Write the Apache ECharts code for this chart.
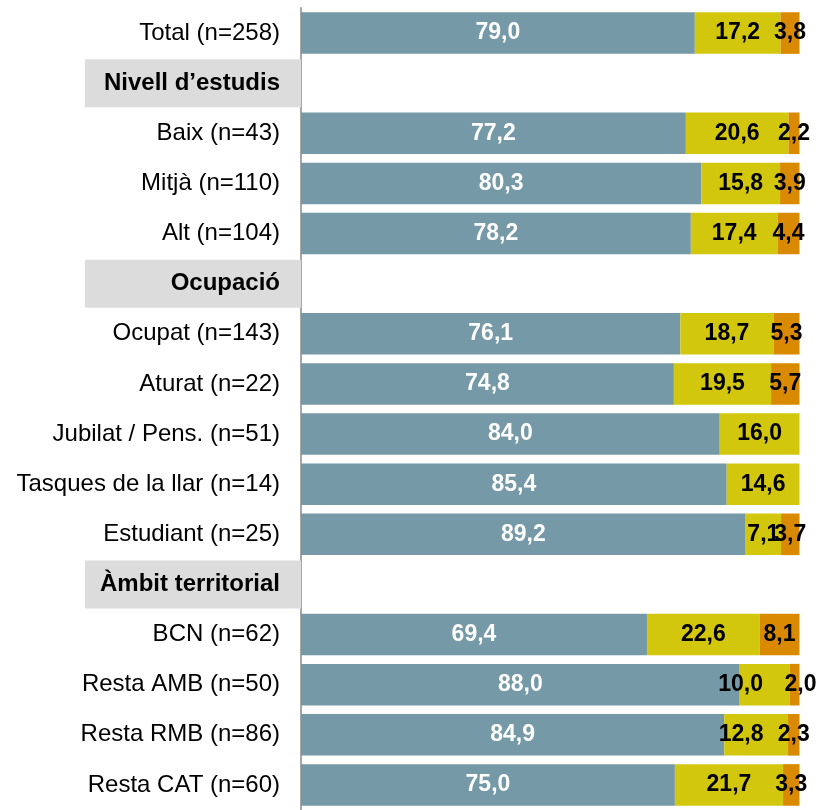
<!DOCTYPE html>
<html>
<head>
<meta charset="utf-8">
<script src="https://cdn.jsdelivr.net/npm/echarts@6/dist/echarts.min.js"></script>
<style>
html,body{margin:0;padding:0;background:#fff;}
#chart{width:822px;height:810px;}
</style>
</head>
<body>
<div id="chart"></div>
<script>
// ---- data ----
const categories = [
  'Total (n=258)',
  'Nivell d\u2019estudis',
  'Baix (n=43)',
  'Mitjà (n=110)',
  'Alt (n=104)',
  'Ocupació',
  'Ocupat (n=143)',
  'Aturat (n=22)',
  'Jubilat / Pens. (n=51)',
  'Tasques de la llar (n=14)',
  'Estudiant (n=25)',
  'Àmbit territorial',
  'BCN (n=62)',
  'Resta AMB (n=50)',
  'Resta RMB (n=86)',
  'Resta CAT (n=60)'
];
const headerRows = ['Nivell d\u2019estudis', 'Ocupació', 'Àmbit territorial'];
const seriesA = [79.0, null, 77.2, 80.3, 78.2, null, 76.1, 74.8, 84.0, 85.4, 89.2, null, 69.4, 88.0, 84.9, 75.0];
const seriesB = [17.2, null, 20.6, 15.8, 17.4, null, 18.7, 19.5, 16.0, 14.6, 7.1, null, 22.6, 10.0, 12.8, 21.7];
const seriesC = [3.8, null, 2.2, 3.9, 4.4, null, 5.3, 5.7, null, null, 3.7, null, 8.1, 2.0, 2.3, 3.3];

// label nudges (style only), keyed by category index
const offsetsB = {13: [-24, 0], 14: [-15, 0]};
const offsetsC = {13: [6, 0]};

const fmt = p => (p.value == null || p.value === 0) ? '' : p.value.toFixed(1).replace('.', ',');

function build(values, offsets) {
  return values.map((v, i) => {
    const item = {value: v};
    if (offsets && offsets[i]) item.label = {offset: offsets[i]};
    return item;
  });
}

const chart = echarts.init(document.getElementById('chart'), null, {renderer: 'canvas'});
const font = 'Liberation Sans, Arial, sans-serif';
const labelBase = {show: true, position: 'inside', fontFamily: font, fontSize: 23, fontWeight: 'bold', formatter: fmt};

chart.setOption({
  animation: false,
  backgroundColor: '#fff',
  grid: {left: 301, top: 8, width: 498.5, height: 810.7, containLabel: false},
  xAxis: {type: 'value', min: 0, max: 100, show: false},
  yAxis: {
    type: 'category',
    inverse: true,
    data: categories,
    axisLine: {show: true, lineStyle: {color: '#A6A6A6', width: 2}},
    axisTick: {show: false},
    axisLabel: {
      margin: 0,
      interval: 0,
      formatter: v => headerRows.includes(v) ? '{h|' + v + '}' : '{n|' + v + '}',
      rich: {
        n: {fontFamily: font, fontSize: 24, color: '#000', padding: [0, 21, 0, 0]},
        h: {fontFamily: font, fontSize: 24, fontWeight: 'bold', color: '#000',
            backgroundColor: '#DCDCDC', width: 195, height: 48, lineHeight: 48,
            align: 'right', padding: [0, 21, 0, 0]}
      }
    }
  },
  series: [
    {type: 'bar', stack: 's', barCategoryGap: '17%', data: build(seriesA),
     itemStyle: {color: '#7599A6'}, label: Object.assign({}, labelBase, {color: '#fff'})},
    {type: 'bar', stack: 's', data: build(seriesB, offsetsB),
     itemStyle: {color: '#D2C70C'}, label: Object.assign({}, labelBase, {color: '#000'})},
    {type: 'bar', stack: 's', data: build(seriesC, offsetsC),
     itemStyle: {color: '#D98A00'}, label: Object.assign({}, labelBase, {color: '#000'})}
  ]
});
</script>
</body>
</html>
